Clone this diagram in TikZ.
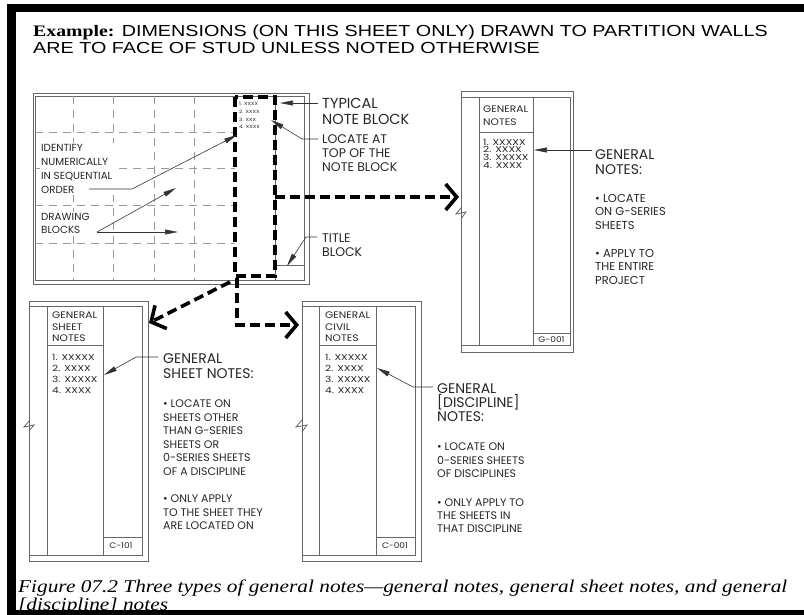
\documentclass[tikz,border=0pt]{standalone}
\usepackage{graphicx}
\usepackage{fontspec}
\setmainfont{Liberation Sans}
\newfontfamily\lblfont{Poppins}
\newfontfamily\shfont{Poppins}[FakeStretch=1.25]
\newfontfamily\shhfont{Poppins}[FakeStretch=1.12]
\newfontfamily\capfont{Liberation Serif}
\usetikzlibrary{arrows.meta}
\begin{document}
\begin{tikzpicture}[x=1pt,y=-1pt,
  sheetln/.style={draw=black!60,line width=0.8pt},
  gridln/.style={draw=black!40,line width=0.8pt,dash pattern=on 8pt off 6pt},
  notedash/.style={draw=black,line width=3.6pt,dash pattern=on 10pt off 5pt},
  bigarrow/.style={notedash,-{Straight Barb[length=11pt,width=26pt,line width=3.6pt]}},
  leader/.style={draw=black!80,line width=0.6pt,-{Triangle[length=13pt,width=5pt]}},
  lbl/.style={font=\lblfont\fontsize{11}{13.5}\selectfont,align=left,anchor=north west,inner sep=0pt,text=black!85},
  lblH/.style={lbl,font=\lblfont\fontsize{14}{15}\selectfont},
  shtxt/.style={font=\shfont\fontsize{8.5}{11.2}\selectfont,align=left,anchor=north west,inner sep=0pt,text=black!85},
  shhead/.style={shtxt,font=\shhfont\fontsize{9.5}{11.5}\selectfont},
  shid/.style={shtxt,anchor=center,font=\shhfont\fontsize{8}{10}\selectfont},
  cover/.style={fill=white,inner sep=1.5pt}
]
\useasboundingbox (0,0) rectangle (804,615);

% ---------- heading
\node[anchor=base west,inner sep=0] (hd1) at (33,37) {\scalebox{1.235}[1]{\fontsize{16}{17}\selectfont{\capfont\bfseries Example:} DIMENSIONS (ON THIS SHEET ONLY) DRAWN TO PARTITION WALLS}};
\node[anchor=base west,inner sep=0] (hd2) at (33,54) {\scalebox{1.235}[1]{\fontsize{16}{17}\selectfont ARE TO FACE OF STUD UNLESS NOTED OTHERWISE}};

% ---------- sheet 1 (plan with drawing blocks)
\draw[sheetln] (33,93) rectangle (309,284);
\draw[sheetln] (35,96) rectangle (304,280);
\draw[sheetln] (275,96) -- (275,280);
\draw[sheetln] (275,265) -- (304,265);
\foreach \gx in {73,113,154,194} \draw[gridln] (\gx,96) -- (\gx,280);
\foreach \gy in {132,168,205,243} \draw[gridln] (35,\gy) -- (235,\gy);
\node[shtxt,font=\shfont\fontsize{4.5}{7.8}\selectfont] (nbtxt) at (239,102) {1. XXXX\\2. XXXX\\3. XXX\\4. XXXX};
\draw[notedash] (235,97) rectangle (275,276);

\node[lbl,cover,font=\lblfont\fontsize{10.3}{14}\selectfont] (ident) at (39.5,143) {IDENTIFY\\NUMERICALLY\\IN SEQUENTIAL\\ORDER};
\node[lbl,cover,font=\lblfont\fontsize{10.3}{13}\selectfont] (drawb) at (39.5,212) {DRAWING\\BLOCKS};
\node[lbl,font=\lblfont\fontsize{14.5}{16}\selectfont] (typ) at (322,98) {TYPICAL\\NOTE BLOCK};
\node[lbl,font=\lblfont\fontsize{12.5}{14}\selectfont] (loc) at (322,134.6) {LOCATE AT\\TOP OF THE\\NOTE BLOCK};
\node[lbl,font=\lblfont\fontsize{12.5}{14}\selectfont] (tit) at (322,233.6) {TITLE\\BLOCK};

\coordinate (ordS) at (89,189); \coordinate (ordK) at (132,189); \coordinate (ordT) at (237,135);
\coordinate (dbS) at (97,232); \coordinate (dbT1) at (176,188); \coordinate (dbT2) at (178,232);
\coordinate (typS) at (318,103); \coordinate (typT) at (280,103);
\coordinate (locS) at (318,139); \coordinate (locK) at (302,139); \coordinate (locT) at (271,120);
\coordinate (titS) at (317,237); \coordinate (titK) at (306,237); \coordinate (titT) at (287,266);
\draw[leader] (ordS) -- (ordK) -- (ordT);
\draw[leader] (dbS) -- (dbT1);
\draw[leader] (dbS) -- (dbT2);
\draw[leader] (typS) -- (typT);
\draw[leader] (locS) -- (locK) -- (locT);
\draw[leader] (titS) -- (titK) -- (titT);

% ---------- G-001 sheet
\draw[sheetln] (461,91) rectangle (573,352);
\draw[sheetln] (461,97) rectangle (570,345);
\draw[sheetln] (479,97) -- (479,345);
\draw[sheetln] (533,97) -- (533,345);
\draw[sheetln] (479,132) -- (533,132);
\draw[sheetln] (533,333) -- (570,333);
\draw[sheetln] (461,208) -- (456,214) -- (466,212) -- (461,219);
\node[shhead,font=\shhfont\fontsize{9.5}{13}\selectfont] (gh) at (483,105.7) {GENERAL\\NOTES};
\node[shtxt,font=\shfont\fontsize{8.5}{7.6}\selectfont] (gl) at (483,139) {1. XXXXX\\2. XXXX\\3. XXXXX\\4. XXXX};
\node[shid] (gid) at (551.5,340) {G-001};
\node[lblH] (gnH) at (595,149) {GENERAL\\NOTES:};
\node[lbl,font=\lblfont\fontsize{11.5}{13.5}\selectfont] (gnB) at (595,194) {• LOCATE\\ON G-SERIES\\SHEETS\\[14.5pt]• APPLY TO\\THE ENTIRE\\PROJECT};
\coordinate (gnS) at (592,150); \coordinate (gnT) at (534,150);
\draw[leader] (gnS) -- (gnT);

% ---------- C-101 sheet
\draw[sheetln] (29,301) rectangle (148,561);
\draw[sheetln] (29,306) rectangle (142,555);
\draw[sheetln] (47,306) -- (47,555);
\draw[sheetln] (103,306) -- (103,555);
\draw[sheetln] (47,345) -- (103,345);
\draw[sheetln] (103,537) -- (142,537);
\draw[sheetln] (29,421) -- (24,427) -- (34,425) -- (29,431);
\node[shhead] (sh) at (52,311.7) {GENERAL\\SHEET\\NOTES};
\node[shtxt] (sl) at (52,353.7) {1. XXXXX\\2. XXXX\\3. XXXXX\\4. XXXX};
\node[shid] (sid) at (121,546) {C-101};
\node[lblH] (snH) at (163,353) {GENERAL\\SHEET NOTES:};
\node[lbl,font=\lblfont\fontsize{11}{13.6}\selectfont] (snB) at (163,399.5) {• LOCATE ON\\SHEETS OTHER\\THAN G-SERIES\\SHEETS OR\\0-SERIES SHEETS\\OF A DISCIPLINE\\[13.5pt]• ONLY APPLY\\TO THE SHEET THEY\\ARE LOCATED ON};
\coordinate (snS) at (158,357); \coordinate (snK) at (136,357); \coordinate (snT) at (104,375);
\draw[leader] (snS) -- (snK) -- (snT);

% ---------- C-001 sheet
\draw[sheetln] (302,301) rectangle (421,561);
\draw[sheetln] (302,306) rectangle (415,555);
\draw[sheetln] (319,306) -- (319,555);
\draw[sheetln] (376,306) -- (376,555);
\draw[sheetln] (319,345) -- (376,345);
\draw[sheetln] (376,537) -- (415,537);
\draw[sheetln] (302,420) -- (296,427) -- (307,425) -- (302,432);
\node[shhead] (ch) at (325,311.7) {GENERAL\\CIVIL\\NOTES};
\node[shtxt] (cl) at (325,353.7) {1. XXXXX\\2. XXXX\\3. XXXXX\\4. XXXX};
\node[shid] (cid) at (395,546) {C-001};
\node[lblH,font=\lblfont\fontsize{14}{14}\selectfont] (dnH) at (437,383.4) {GENERAL\\{}[DISCIPLINE]\\NOTES:};
\node[lbl,font=\lblfont\fontsize{11}{13.2}\selectfont] (dnB) at (437,442.9) {• LOCATE ON\\0-SERIES SHEETS\\OF DISCIPLINES\\[15.8pt]• ONLY APPLY TO\\THE SHEETS IN\\THAT DISCIPLINE};
\coordinate (dnS) at (433,387); \coordinate (dnK) at (413,387); \coordinate (dnT) at (377,368);
\draw[leader] (dnS) -- (dnK) -- (dnT);

% ---------- thick dashed arrows from the note block
\coordinate (nbR) at (275,197); \coordinate (gL) at (459,197);
\coordinate (nbB) at (237,278); \coordinate (nbK) at (237,325); \coordinate (cL) at (299,325);
\coordinate (nbD) at (230,282); \coordinate (sR) at (149,323);
\draw[bigarrow] (nbR) -- (gL);
\draw[bigarrow] (nbB) -- (nbK) -- (cL);
\draw[bigarrow] (nbD) -- (sR);

% ---------- caption
\node[anchor=base west,inner sep=0] (cap1) at (18,592) {\scalebox{1.185}[1]{\capfont\itshape\fontsize{18}{20}\selectfont Figure 07.2 Three types of general notes—general notes, general sheet notes, and general}};
\node[anchor=base west,inner sep=0] (cap2) at (18,610) {\scalebox{1.185}[1]{\capfont\itshape\fontsize{18}{20}\selectfont [discipline] notes}};

% ---------- frame bars
\fill[black] (7,4) rectangle (804,12);
\fill[black] (7,4) rectangle (16,615);
\fill[black] (7,610) rectangle (804,615);
\end{tikzpicture}
\end{document}
